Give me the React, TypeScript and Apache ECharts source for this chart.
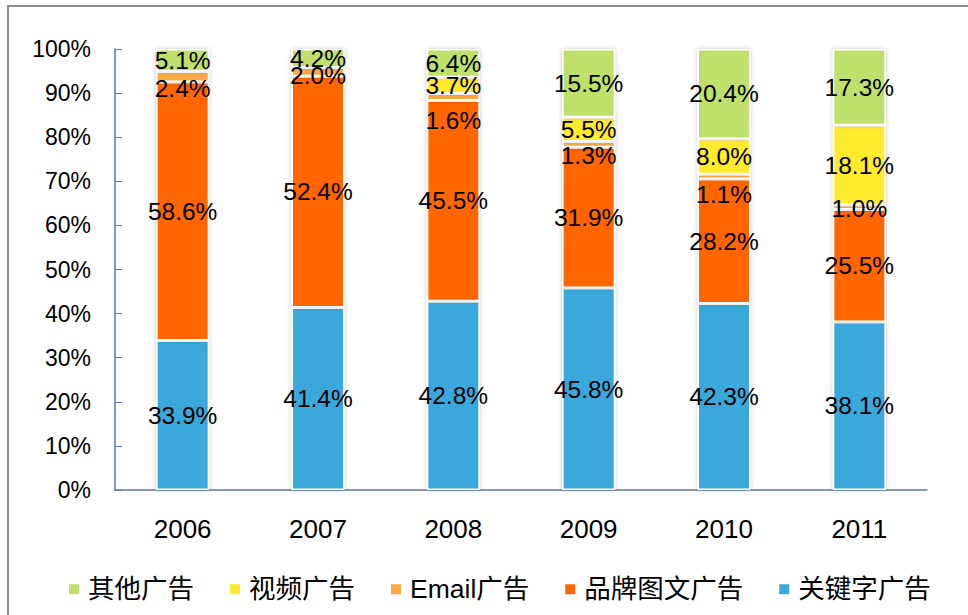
import React, { useEffect, useRef } from "react";
import * as echarts from "echarts";

const years = ["2006", "2007", "2008", "2009", "2010", "2011"];
const keywordAds = [33.9, 41.4, 42.8, 45.8, 42.3, 38.1];
const brandAds = [58.6, 52.4, 45.5, 31.9, 28.2, 25.5];
const emailAds = [2.4, 2.0, 1.6, 1.3, 1.1, 1.0];
const videoAds = [0, 0, 3.7, 5.5, 8.0, 18.1];
const otherAds = [5.1, 4.2, 6.4, 15.5, 20.4, 17.3];
const yTicks = [0, 10, 20, 30, 40, 50, 60, 70, 80, 90, 100];

// label vertical nudges for the thin Email segments (styling, not data)
const emailLabelShift = [12, 4, 23, 11, 18, 1];

const FONT = "'Liberation Sans', Arial, 'Noto Sans CJK SC', sans-serif";
const AXIS = "#6175aa";

export default function App() {
  const ref = useRef<HTMLDivElement>(null);
  useEffect(() => {
    if (!ref.current) return;
    const chart = echarts.init(ref.current, undefined, { renderer: "svg" });

    const mk = (name: string, vals: number[], color: string, shifts?: number[]) => ({
      name,
      type: "bar",
      stack: "total",
      barWidth: 53,
      data: vals.map((v, i) => {
        if (!v) return "-";
        const item: any = { value: v };
        if (shifts) item.label = { offset: [0, shifts[i]] };
        return item;
      }),
      itemStyle: {
        color,
        borderColor: "#ffffff",
        borderWidth: 1.5,
        shadowBlur: 5,
        shadowColor: "rgba(0,0,0,0.22)",
      },
      label: {
        show: true,
        position: "inside",
        color: "#000",
        fontSize: 24.5,
        fontFamily: FONT,
        formatter: (p: any) => Number(p.value).toFixed(1) + "%",
      },
    });

    chart.setOption({
      animation: false,
      backgroundColor: "#ffffff",
      graphic: [
        {
          type: "rect",
          shape: { x: 8, y: 6, width: 1000, height: 700 },
          style: { fill: "none", stroke: "#8a8a8a", lineWidth: 2 },
          silent: true,
        },
      ],
      grid: { left: 115, right: 41, top: 49, bottom: 125 },
      legend: {
        left: 62,
        top: 571,
        itemWidth: 12,
        itemHeight: 12,
        itemGap: 34,
        icon: "rect",
        data: ["其他广告", "视频广告", "Email广告", "品牌图文广告", "关键字广告"],
        textStyle: { fontSize: 26.5, color: "#000", fontFamily: FONT, padding: [0, 0, 0, 3] },
      },
      xAxis: {
        type: "category",
        data: years,
        axisLine: { lineStyle: { color: AXIS, width: 1.5 } },
        axisTick: { inside: true, length: 7, lineStyle: { color: AXIS } },
        axisLabel: { fontSize: 26, color: "#000", fontFamily: FONT, margin: 26 },
      },
      yAxis: {
        type: "value",
        min: yTicks[0],
        max: yTicks[yTicks.length - 1],
        interval: yTicks[1] - yTicks[0],
        splitLine: { show: false },
        axisLine: { show: true, lineStyle: { color: AXIS, width: 1.5 } },
        axisTick: { show: true, inside: true, length: 7, lineStyle: { color: AXIS } },
        axisLabel: { fontSize: 23, color: "#000", fontFamily: FONT, margin: 24, formatter: "{value}%" },
      },
      series: [
        mk("关键字广告", keywordAds, "#3aa8db"),
        mk("品牌图文广告", brandAds, "#ff6600"),
        mk("Email广告", emailAds, "#fdaa45", emailLabelShift),
        mk("视频广告", videoAds, "#ffeb2e"),
        mk("其他广告", otherAds, "#bfe06b"),
      ],
    });
    return () => chart.dispose();
  }, []);
  return (
    <div
      ref={ref}
      style={{ position: "fixed", left: 0, top: 0, width: 968, height: 615 }}
    />
  );
}
